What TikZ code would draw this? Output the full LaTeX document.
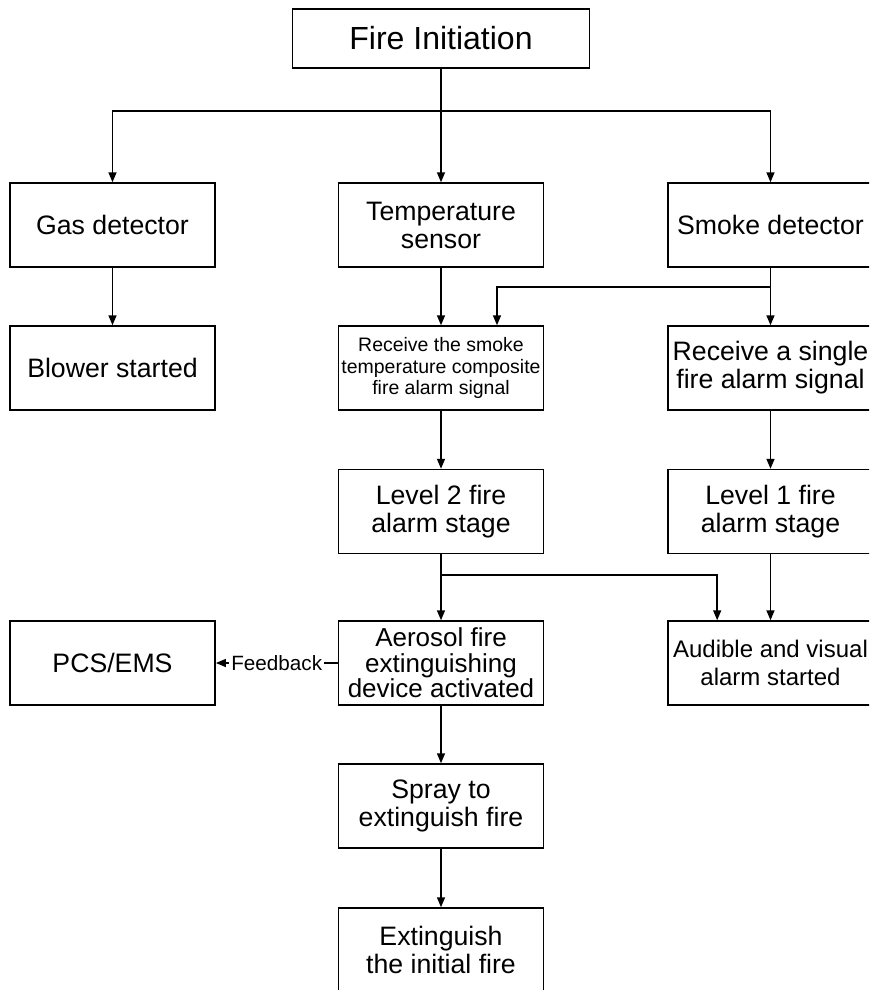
\documentclass[tikz,border=0pt]{standalone}
\usepackage{fontspec}
\setmainfont{Liberation Sans}
\usetikzlibrary{arrows.meta}

\tikzset{every picture/.style={line width=1.1pt}}
\tikzset{
  blk/.style={draw, rectangle, align=center, minimum width=154pt, minimum height=63pt, inner sep=2pt, font=\fontsize{20}{21}\selectfont},
  topblk/.style={blk, minimum width=223pt, minimum height=44pt, font=\fontsize{24}{28}\selectfont},
  smallblk/.style={blk, font=\fontsize{14.6}{16}\selectfont},
  tightblk/.style={blk, font=\fontsize{19.5}{19}\selectfont},
  fb/.style={fill=white, inner sep=1.5pt, font=\fontsize{15.5}{18}\selectfont},
  >={Triangle[length=7.5pt,width=6pt]}
}

\begin{document}
\begin{tikzpicture}[x=0.75pt,y=0.75pt,yscale=-1,xscale=1]
\useasboundingbox (0,0) rectangle (869,990);
\clip (0,0) rectangle (869,990);

%Shape: Boxes
\node[topblk] (fire) at (441,38.5) {Fire Initiation};
\node[blk] (gas) at (112.5,225) {Gas detector};
\node[blk] (temp) at (441,225) {Temperature\\sensor};
\node[blk] (smoke) at (770.5,225) {Smoke detector};
\node[blk] (blower) at (112.5,368) {Blower started};
\node[smallblk] (comp) at (441,368) {Receive the smoke\\temperature composite\\fire alarm signal};
\node[blk] (single) at (770.5,368) {Receive a single\\fire alarm signal};
\node[blk] (lvltwo) at (441,511.5) {Level 2 fire\\alarm stage};
\node[blk] (lvlone) at (770.5,511.5) {Level 1 fire\\alarm stage};
\node[blk] (pcs) at (112.5,663) {PCS/EMS};
\node[tightblk] (aero) at (441,663) {Aerosol fire\\extinguishing\\device activated};
\node[blk, font=\fontsize{18}{21}\selectfont] (alarm) at (770.5,663) {Audible and visual\\alarm started};
\node[blk] (spray) at (441,806) {Spray to\\extinguish fire};
\node[blk] (ext) at (441,950) {Extinguish\\the initial fire};

%Branch points
\coordinate (split) at (441,111);
\coordinate (sbr) at (770.5,287);
\coordinate (lbr) at (441,575);

%Straight Lines
\draw (fire) -- (split);
\draw[->] (split) -| (gas);
\draw[->] (split) -- (temp);
\draw[->] (split) -| (smoke);

\draw[->] (gas) -- (blower);
\draw[->] (temp) -- (comp);
\draw[->] (smoke) -- (single);
\draw[->] (sbr) -| ([xshift=42pt]comp.north);

\draw[->] (comp) -- (lvltwo);
\draw[->] (single) -- (lvlone);

\draw (lvltwo) -- (lbr);
\draw[->] (lbr) -- (aero);
\draw[->] (lbr) -| ([xshift=-40pt]alarm.north);
\draw[->] (lvlone) -- (alarm);

\draw[->] (aero) -- node[fb] {Feedback} (pcs);
\draw[->] (aero) -- (spray);
\draw[->] (spray) -- (ext);

\end{tikzpicture}
\end{document}
